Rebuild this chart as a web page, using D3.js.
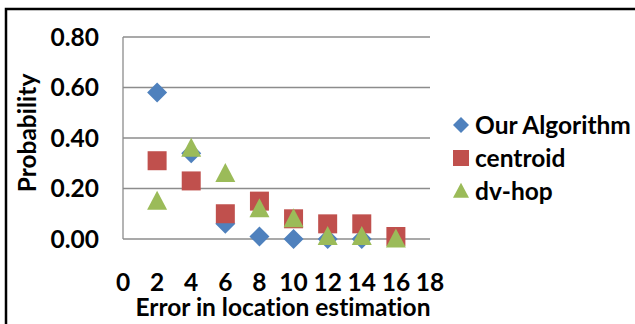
<!DOCTYPE html>
<html><head><meta charset="utf-8">
<script src="https://cdn.jsdelivr.net/npm/d3@7"></script>
<style>body{margin:0;background:#fff}svg{display:block}text{font-family:Lato,"Open Sans",sans-serif;font-weight:bold;fill:#000;font-variant-ligatures:none}</style>
</head><body>
<script>
const xTicks = [0,2,4,6,8,10,12,14,16,18];
const yTicks = [0,0.2,0.4,0.6,0.8];
const seriesNames = ["Our Algorithm","centroid","dv-hop"];
const ourX = [2,4,6,8,10,12,14];
const ourY = [0.58,0.34,0.06,0.01,0.00,0.00,0.00];
const centroidX = [2,4,6,8,10,12,14,16];
const centroidY = [0.31,0.23,0.10,0.15,0.08,0.06,0.06,0.01];
const dvhopX = [2,4,6,8,10,12,14,16];
const dvhopY = [0.15,0.36,0.26,0.12,0.08,0.01,0.01,0.00];
const colors = ["#4F81BD","#C0504D","#9BBB59"];

const W=635,H=324,FS="24.5px";
const svg=d3.select("body").append("svg").attr("width",W).attr("height",H);
svg.append("path").attr("d","M6,324V9H635").attr("fill","none").attr("stroke","#000").attr("stroke-width",2.5);

const x=d3.scaleLinear().domain([0,18]).range([123,430]);
const y=d3.scaleLinear().domain([0,0.8]).range([239,37]);

const g=svg.append("g");
g.selectAll("line.grid").data(yTicks).join("line").attr("class","grid")
 .attr("x1",x(0)).attr("x2",x(18)).attr("y1",d=>y(d)).attr("y2",d=>y(d))
 .attr("stroke","#8c8c8c").attr("stroke-width",1.3);
g.append("line").attr("x1",x(0)).attr("x2",x(0)).attr("y1",y(0.8)).attr("y2",y(0)).attr("stroke","#8c8c8c").attr("stroke-width",1.3);

g.selectAll("text.yt").data(yTicks).join("text").attr("class","yt")
 .attr("x",99).attr("y",d=>y(d)).attr("dy","0.35em").attr("text-anchor","end")
 .style("font-size",FS).text(d=>d3.format(".2f")(d));
g.selectAll("text.xt").data(xTicks).join("text").attr("class","xt")
 .attr("x",d=>x(d)).attr("y",282).attr("dy","0.35em").attr("text-anchor","middle")
 .style("font-size",FS).text(d=>d);

svg.append("text").attr("x",283).attr("y",307).attr("dy","0.35em").attr("text-anchor","middle")
 .style("font-size",FS).text("Error in location estimation");
svg.append("text").attr("transform","translate(27,133) rotate(-90)").attr("dy","0.35em").attr("text-anchor","middle")
 .style("font-size",FS).text("Probability");

const diamond=s=>`M0,${-s}L${s},0L0,${s}L${-s},0Z`;
const square=s=>`M${-s},${-s}H${s}V${s}H${-s}Z`;
const tri=(w,h)=>`M0,${-h*0.55}L${w/2},${h*0.45}L${-w/2},${h*0.45}Z`;

g.selectAll("path.our").data(ourX.map((d,i)=>[d,ourY[i]])).join("path").attr("class","our")
 .attr("transform",d=>`translate(${x(d[0])},${y(d[1])})`).attr("d",diamond(10)).attr("fill",colors[0]);
g.selectAll("path.cen").data(centroidX.map((d,i)=>[d,centroidY[i]])).join("path").attr("class","cen")
 .attr("transform",d=>`translate(${x(d[0])},${y(d[1])})`).attr("d",square(9.5)).attr("fill",colors[1]);
g.selectAll("path.dv").data(dvhopX.map((d,i)=>[d,dvhopY[i]])).join("path").attr("class","dv")
 .attr("transform",d=>`translate(${x(d[0])},${y(d[1])})`).attr("d",tri(20,19)).attr("fill",colors[2]);

const leg=svg.append("g");
const shapes=[diamond(8),square(8),tri(16,15)];
seriesNames.forEach((n,i)=>{
  const yy=125+i*33;
  leg.append("path").attr("transform",`translate(461,${yy})`).attr("d",shapes[i]).attr("fill",colors[i]);
  leg.append("text").attr("x",475).attr("y",yy).attr("dy","0.35em").style("font-size",FS).text(n);
});
</script>
</body></html>
